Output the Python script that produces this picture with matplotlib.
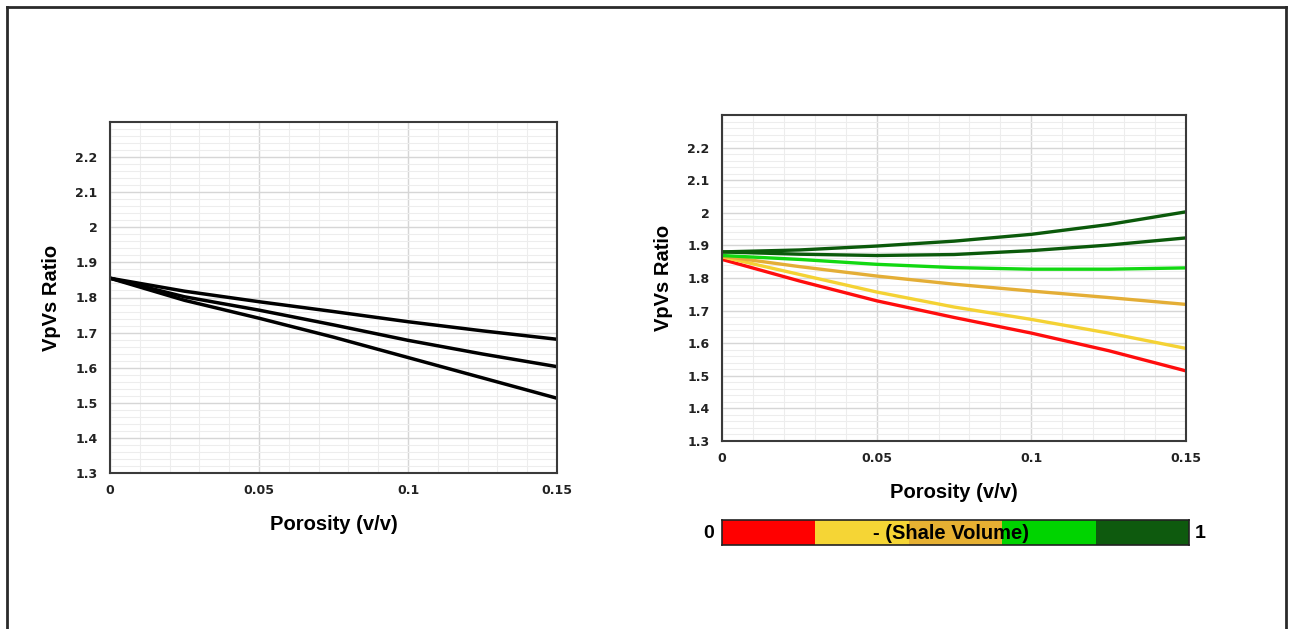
import matplotlib
matplotlib.use("Agg")
import matplotlib.pyplot as plt
from matplotlib.lines import Line2D
from matplotlib.ticker import MultipleLocator

# porosity sample points
phi = [0, 0.025, 0.05, 0.075, 0.1, 0.125, 0.15]

# left chart: three black curves
left_top = [1.855, 1.818, 1.788, 1.760, 1.731, 1.705, 1.681]
left_mid = [1.855, 1.802, 1.764, 1.722, 1.678, 1.639, 1.603]
left_low = [1.855, 1.792, 1.741, 1.687, 1.629, 1.571, 1.513]

# right chart: curves for shale volume 0 .. 1
vsh_curves = [
    [1.857, 1.791, 1.730, 1.679, 1.631, 1.577, 1.515],
    [1.865, 1.811, 1.757, 1.711, 1.673, 1.631, 1.584],
    [1.867, 1.835, 1.806, 1.781, 1.760, 1.740, 1.719],
    [1.869, 1.857, 1.842, 1.832, 1.827, 1.827, 1.831],
    [1.880, 1.873, 1.869, 1.872, 1.884, 1.901, 1.923],
    [1.880, 1.886, 1.898, 1.913, 1.934, 1.964, 2.003],
]
vsh_colors = ["#FF0D0D", "#F4D234", "#E4AE36", "#12D812", "#0B5A0B", "#0B5A0B"]

# colour key segments
key_edges = [0, 0.2, 0.4, 0.6, 0.8]
key_colors = ["#FF0000", "#F5D535", "#E6B032", "#00D400", "#0E5A0E"]

x_ticks = [0, 0.05, 0.1, 0.15]
x_labels = ["0", "0.05", "0.1", "0.15"]
y_ticks = [1.3, 1.4, 1.5, 1.6, 1.7, 1.8, 1.9, 2.0, 2.1, 2.2]
y_labels = ["1.3", "1.4", "1.5", "1.6", "1.7", "1.8", "1.9", "2", "2.1", "2.2"]

W, H = 1290, 629
fig = plt.figure(figsize=(W / 100, H / 100), dpi=100)


def px_axes(x0, y0, x1, y1):
    return fig.add_axes([x0 / W, 1 - y1 / H, (x1 - x0) / W, (y1 - y0) / H])


def style(ax):
    ax.set_xlim(0, 0.15)
    ax.set_ylim(1.3, 2.3)
    ax.set_xticks(x_ticks)
    ax.set_xticklabels(x_labels)
    ax.set_yticks(y_ticks)
    ax.set_yticklabels(y_labels)
    ax.xaxis.set_minor_locator(MultipleLocator(0.01))
    ax.yaxis.set_minor_locator(MultipleLocator(0.02))
    ax.grid(which="major", color="#D6D6D6", lw=1.0)
    ax.grid(which="minor", color="#EDEDED", lw=0.8)
    ax.set_axisbelow(True)
    ax.tick_params(which="both", length=0)
    ax.tick_params(axis="x", pad=8)
    ax.tick_params(axis="y", pad=9)
    for lab in ax.get_xticklabels() + ax.get_yticklabels():
        lab.set_fontfamily("DejaVu Sans")
        lab.set_fontweight("bold")
        lab.set_fontsize(9)
        lab.set_color("#222222")
    for s in ax.spines.values():
        s.set_color("#3A3A3A")
        s.set_linewidth(1.5)
    ax.set_xlabel("Porosity (v/v)", fontsize=14.5, fontweight="bold",
                  family="Liberation Sans", labelpad=13)
    ax.set_ylabel("VpVs Ratio", fontsize=14.5, fontweight="bold",
                  family="Liberation Sans", labelpad=10)


ax1 = px_axes(110, 122, 557, 473)
style(ax1)
for ys in (left_top, left_mid, left_low):
    ax1.plot(phi, ys, color="black", lw=2.5, solid_capstyle="butt")

ax2 = px_axes(722, 115, 1186, 441)
style(ax2)
for ys, c in zip(vsh_curves, vsh_colors):
    ax2.plot(phi, ys, color=c, lw=2.4, solid_capstyle="butt")

# shale volume key
axk = px_axes(722, 520, 1189, 545)
axk.barh(0, 0.2, left=key_edges, color=key_colors, height=1, align="edge")
axk.set_xlim(0, 1)
axk.set_ylim(0, 1)
axk.set_xticks([])
axk.set_yticks([])
for s in axk.spines.values():
    s.set_color("#222222")
    s.set_linewidth(1.2)
axk.text(0.49, 0.47, "- (Shale Volume)", ha="center", va="center",
         fontsize=14.5, fontweight="bold", family="Liberation Sans")
axk.text(-0.018, 0.47, "0", ha="right", va="center", fontsize=14,
         fontweight="bold", family="Liberation Sans")
axk.text(1.012, 0.47, "1", ha="left", va="center", fontsize=14,
         fontweight="bold", family="Liberation Sans")

# outer frame (open at the bottom)
top = 1 - 6.5 / H
for xs, ys in (([7 / W, 7 / W], [0, top]),
               ([1286 / W, 1286 / W], [0, top]),
               ([7 / W, 1286 / W], [top, top])):
    fig.add_artist(Line2D(xs, ys, transform=fig.transFigure,
                          color="#2A2A2A", lw=2.0))

fig.savefig("out.png", dpi=100, facecolor="white")
